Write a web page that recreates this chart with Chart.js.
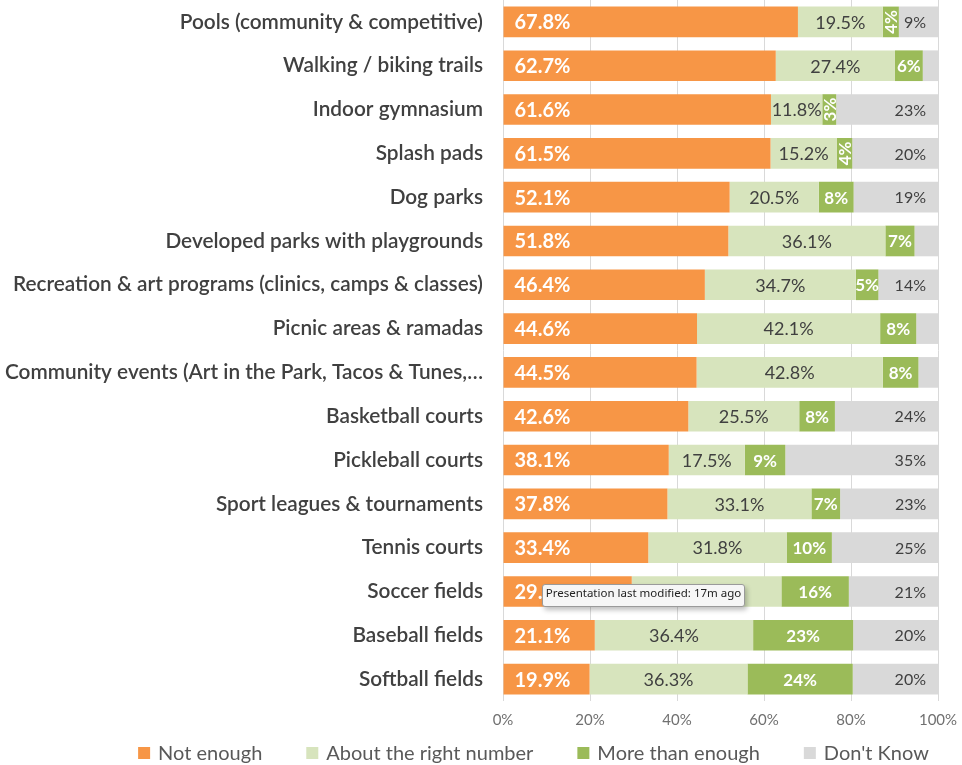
<!DOCTYPE html>
<html>
<head>
<meta charset="utf-8">
<title>Amenities</title>
<script src="https://cdn.jsdelivr.net/npm/chart.js@4"></script>
<style>
    html, body { margin: 0; padding: 0; background: #fff; }
    #wrap { position: relative; width: 962px; height: 765px; }
    #tip {
        position: absolute;
        left: 542px;
        top: 584px;
        width: 201px;
        height: 21px;
        line-height: 21px;
        text-align: center;
        font: 11.5px 'Noto Sans', sans-serif;
        color: #222;
        background: #f6f6f6;
        border: 1px solid #9a9a9a;
        border-radius: 3px;
        box-shadow: 2px 3px 5px rgba(0, 0, 0, 0.25);
        white-space: nowrap;
    }
</style>
</head>
<body>
<div id="wrap">
    <canvas id="chart" width="962" height="765"></canvas>
    <div id="tip">Presentation last modified: 17m ago</div>
</div>
<script>
// categories, top to bottom
const categories = [
    'Pools (community & competitive)',
    'Walking / biking trails',
    'Indoor gymnasium',
    'Splash pads',
    'Dog parks',
    'Developed parks with playgrounds',
    'Recreation & art programs (clinics, camps & classes)',
    'Picnic areas & ramadas',
    'Community events (Art in the Park, Tacos & Tunes,…',
    'Basketball courts',
    'Pickleball courts',
    'Sport leagues & tournaments',
    'Tennis courts',
    'Soccer fields',
    'Baseball fields',
    'Softball fields'
];

const seriesNames = ['Not enough', 'About the right number', 'More than enough', "Don't Know"];

const notEnough      = [67.8, 62.7, 61.6, 61.5, 52.1, 51.8, 46.4, 44.6, 44.5, 42.6, 38.1, 37.8, 33.4, 29.6, 21.1, 19.9];
const rightNumber    = [19.5, 27.4, 11.8, 15.2, 20.5, 36.1, 34.7, 42.1, 42.8, 25.5, 17.5, 33.1, 31.8, 34.4, 36.4, 36.3];
const moreThanEnough = [3.7, 6.4, 3.2, 3.6, 8.0, 6.7, 5.2, 8.3, 8.2, 8.2, 9.3, 6.6, 10.4, 15.5, 23.0, 24.2];
const dontKnow       = [9.0, 3.6, 23.4, 19.7, 19.4, 5.4, 13.7, 5.0, 4.5, 23.7, 35.1, 22.6, 24.5, 20.5, 19.5, 19.6];

const seriesColors = ['#f79646', '#d7e4bd', '#9bbb59', '#d9d9d9'];

const FONT = 'Lato, Carlito, Calibri, sans-serif';

// label style per series
const labelStyles = [
    { font: 'bold 20px ' + FONT, color: '#ffffff', place: 'start', decimals: 1 },
    { font: '18px ' + FONT, color: '#404040', place: 'center', decimals: 1 },
    { font: 'bold 17px ' + FONT, color: '#ffffff', place: 'center', decimals: 0, rotateNarrow: true },
    { font: '16px ' + FONT, color: '#404040', place: 'end', decimals: 0, hideBelow: 6 }
];

const barLabels = {
    id: 'barLabels',
    afterDatasetsDraw(chart) {
        const ctx = chart.ctx;
        chart.data.datasets.forEach((ds, i) => {
            const meta = chart.getDatasetMeta(i);
            const st = labelStyles[i];
            meta.data.forEach((bar, j) => {
                const v = ds.data[j];
                if (st.hideBelow && v < st.hideBelow) return;
                const text = v.toFixed(st.decimals) + '%';
                const x0 = Math.min(bar.base, bar.x);
                const x1 = Math.max(bar.base, bar.x);
                ctx.save();
                ctx.font = st.font;
                ctx.fillStyle = st.color;
                ctx.textBaseline = 'middle';
                const w = ctx.measureText(text).width;
                if (st.place === 'start') {
                    ctx.textAlign = 'left';
                    ctx.fillText(text, x0 + 11, bar.y + 1);
                } else if (st.place === 'end') {
                    ctx.textAlign = 'right';
                    ctx.fillText(text, x1 - 12, bar.y + 1);
                } else if (st.rotateNarrow && w > x1 - x0 + 4) {
                    // too narrow: write it upward
                    ctx.translate((x0 + x1) / 2, bar.y);
                    ctx.rotate(-Math.PI / 2);
                    ctx.textAlign = 'center';
                    ctx.fillText(text, 0, 1);
                } else {
                    ctx.textAlign = 'center';
                    ctx.fillText(text, (x0 + x1) / 2, bar.y + 1);
                }
                ctx.restore();
            });
        });
    }
};

const bottomLegend = {
    id: 'bottomLegend',
    afterDraw(chart) {
        const ctx = chart.ctx;
        const items = chart.data.datasets.map(ds => ({ label: ds.label, color: ds.backgroundColor }));
        ctx.save();
        ctx.font = '20px ' + FONT;
        const box = 12, gapBox = 8, gapItem = 44;
        const widths = items.map(it => box + gapBox + ctx.measureText(it.label).width);
        const total = widths.reduce((a, b) => a + b, 0) + gapItem * (items.length - 1);
        let x = 533.5 - total / 2;
        const y = 753;
        ctx.textBaseline = 'middle';
        ctx.textAlign = 'left';
        items.forEach((it, k) => {
            ctx.fillStyle = it.color;
            ctx.fillRect(x, y - box / 2, box, box);
            ctx.fillStyle = '#595959';
            ctx.fillText(it.label, x + box + gapBox, y + 1);
            x += widths[k] + gapItem;
        });
        ctx.restore();
    }
};

const seriesData = [notEnough, rightNumber, moreThanEnough, dontKnow];

new Chart(document.getElementById('chart').getContext('2d'), {
    type: 'bar',
    data: {
        labels: categories,
        datasets: seriesNames.map((name, i) => ({
            label: name,
            data: seriesData[i],
            backgroundColor: seriesColors[i],
            borderWidth: 0,
            categoryPercentage: 1,
            barPercentage: 0.7
        }))
    },
    options: {
        indexAxis: 'y',
        responsive: false,
        animation: false,
        layout: { padding: { top: 0, right: 24, bottom: 0, left: 0 } },
        plugins: {
            legend: { display: false },
            tooltip: { enabled: false }
        },
        scales: {
            x: {
                stacked: true,
                min: 0,
                max: 100,
                ticks: {
                    stepSize: 20,
                    color: '#707070',
                    font: { family: FONT, size: 15 },
                    padding: 10,
                    callback: v => v + '%'
                },
                grid: { color: '#d9d9d9', drawTicks: false },
                border: { display: false },
                afterFit: scale => {
                    scale.height = 64;
                    scale.paddingLeft = 0;
                    scale.paddingRight = 0;
                }
            },
            y: {
                stacked: true,
                ticks: {
                    color: '#404040',
                    font: { family: FONT, size: 20.8, weight: '600' },
                    padding: 12,
                    autoSkip: false
                },
                grid: { display: false },
                border: { display: false },
                afterFit: scale => {
                    scale.width = 503;
                    scale.paddingTop = 0;
                    scale.paddingBottom = 0;
                }
            }
        }
    },
    plugins: [barLabels, bottomLegend]
});
</script>
</body>
</html>
